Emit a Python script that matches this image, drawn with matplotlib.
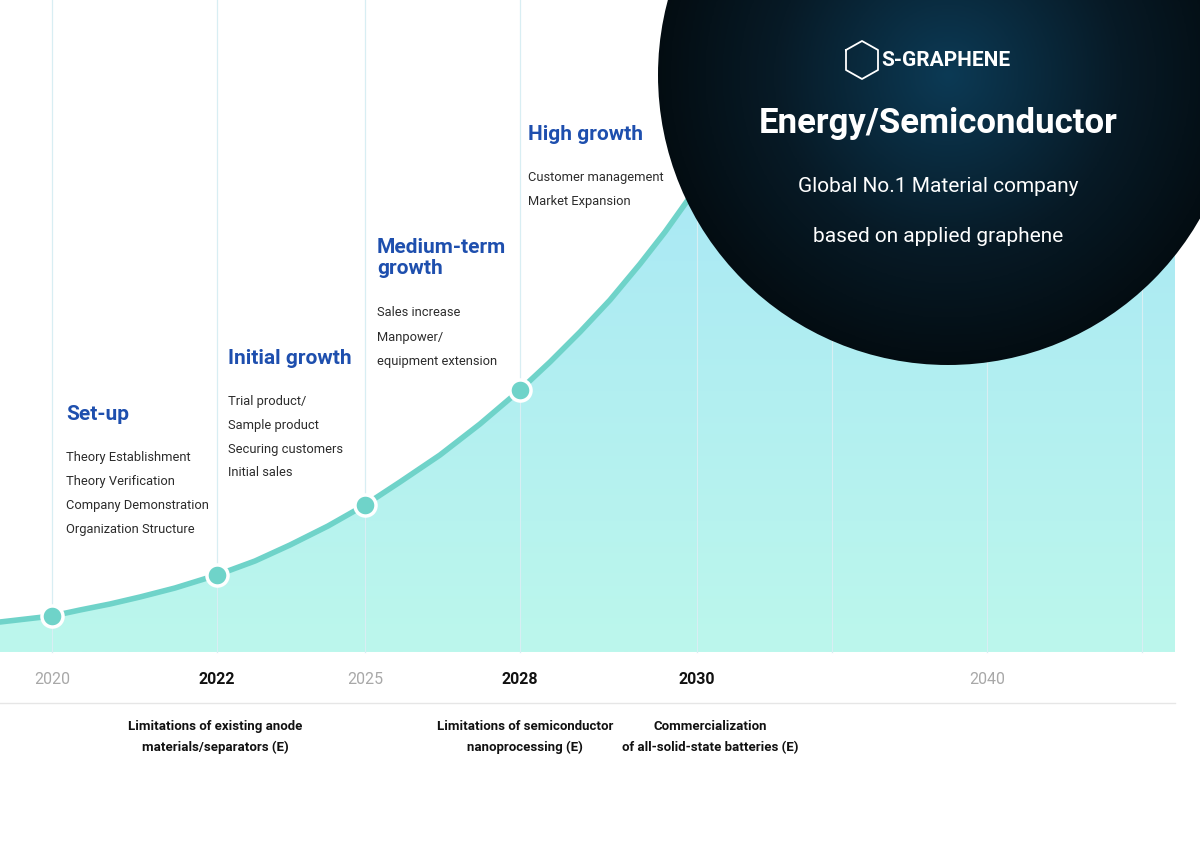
import numpy as np
import matplotlib.pyplot as plt
from matplotlib.patches import Circle, Polygon

plt.rcParams['font.family'] = 'Roboto'

# axis ticks (year labels) and their column positions
tick_years = ['2020', '2022', '2025', '2028', '2030', '', '2040', '']
tick_pos = [52, 217, 365, 520, 697, 832, 987, 1142]
tick_bold = [False, True, False, True, True, False, False, False]

# growth curve (x position, height above baseline)
curve_x = [0, 26, 52, 80, 110, 140, 175, 217, 255, 290, 328, 365, 400, 440, 480,
           520, 550, 580, 610, 640, 665, 690, 715, 740, 765, 790]
curve_h = [30, 33, 36, 42, 48, 55, 64, 77, 91, 107, 126, 147, 170, 197, 228,
           262, 290, 320, 352, 388, 420, 455, 492, 532, 575, 620]
milestone_idx = [2, 7, 11, 15]

stages = ['Set-up', 'Initial growth', 'Medium-term\ngrowth', 'High growth']
stage_items = [
    ['Theory Establishment', 'Theory Verification', 'Company Demonstration', 'Organization Structure'],
    ['Trial product/', 'Sample product', 'Securing customers', 'Initial sales'],
    ['Sales increase', 'Manpower/', 'equipment extension'],
    ['Customer management', 'Market Expansion'],
]
stage_x = [66, 228, 377, 528]
stage_y = [415, 358, 258, 135]

events = ['Limitations of existing anode\nmaterials/separators (E)',
          'Limitations of semiconductor\nnanoprocessing (E)',
          'Commercialization\nof all-solid-state batteries (E)']
event_x = [215, 525, 710]

base = 652
fig = plt.figure(figsize=(12, 8.59), dpi=100)
ax = fig.add_axes([0, 0, 1, 1])
ax.set_xlim(0, 1200)
ax.set_ylim(859, 0)
ax.axis('off')

for p in tick_pos:
    ax.plot([p, p], [0, base], color='#e3e6ee', lw=0.8, zorder=1)

cy = [base - h for h in curve_h]
poly = [(x, y) for x, y in zip(curve_x, cy)] + [(790, 0), (1175, 0), (1175, base), (0, base)]
grad = np.linspace(0, 1, 256).reshape(-1, 1)
im = ax.imshow(grad, extent=[0, 1175, base, 0], aspect='auto', zorder=2,
               cmap=plt.matplotlib.colors.LinearSegmentedColormap.from_list('g', ['#a3e3f8', '#bcf7ec']))
clip = Polygon(poly, closed=True, transform=ax.transData)
im.set_clip_path(clip)
for p in tick_pos:
    ax.plot([p, p], [0, base], color='#d8eef3', lw=0.8, zorder=2.5)

ax.plot(curve_x, cy, color='#6fd3c9', lw=4, zorder=3, solid_capstyle='round', solid_joinstyle='round')
ax.scatter([curve_x[i] for i in milestone_idx], [cy[i] for i in milestone_idx],
           s=230, color='#6fd3c9', edgecolor='white', linewidth=2.5, zorder=4)

# dark circle
cx, cyc, r = 948, 75, 290
yy, xx = np.mgrid[-1:1:300j, -1:1:300j]
rad = np.sqrt(xx**2 + yy**2)
dark = plt.matplotlib.colors.LinearSegmentedColormap.from_list('d', ['#0c3a55', '#071a26', '#020608'])
ci = ax.imshow(rad, extent=[cx - r, cx + r, cyc + r, cyc - r], cmap=dark, vmin=0, vmax=1.2, zorder=5)
ci.set_clip_path(Circle((cx, cyc), r, transform=ax.transData))

ax.text(946, 61, 'S-GRAPHENE', color='white', fontsize=15, ha='center', va='center',
        fontweight='bold', zorder=6)
ax.plot([846, 862, 878, 878, 862, 846, 846], [50, 41, 50, 70, 79, 70, 50], color='white', lw=1.3, zorder=6)
ax.text(938, 123, 'Energy/Semiconductor', color='white', fontsize=25, ha='center', va='center',
        fontweight='bold', zorder=6)
ax.text(938, 186, 'Global No.1 Material company', color='white', fontsize=15, ha='center', va='center', zorder=6)
ax.text(938, 236, 'based on applied graphene', color='white', fontsize=15, ha='center', va='center', zorder=6)

for name, items, x, y in zip(stages, stage_items, stage_x, stage_y):
    ax.text(x, y, name, color='#1e4fae', fontsize=15, fontweight='bold', va='center',
            linespacing=1.1, zorder=6)
    y0 = y + 43 + (12 if '\n' in name else 0)
    for k, it in enumerate(items):
        ax.text(x, y0 + 24 * k, it, color='#2a2a2a', fontsize=9.3, va='center', zorder=6)

for lab, p, b in zip(tick_years, tick_pos, tick_bold):
    ax.text(p, 679, lab, ha='center', va='center', fontsize=11.5,
            color='#111111' if b else '#a8a8a8', fontweight='bold' if b else 'normal')
ax.plot([0, 1175], [703, 703], color='#e6e6e6', lw=1)

for lab, p in zip(events, event_x):
    ax.text(p, 737, lab, ha='center', va='center', fontsize=9.5, fontweight='bold',
            color='#111111', linespacing=1.75)

fig.savefig('out.png', dpi=100)
